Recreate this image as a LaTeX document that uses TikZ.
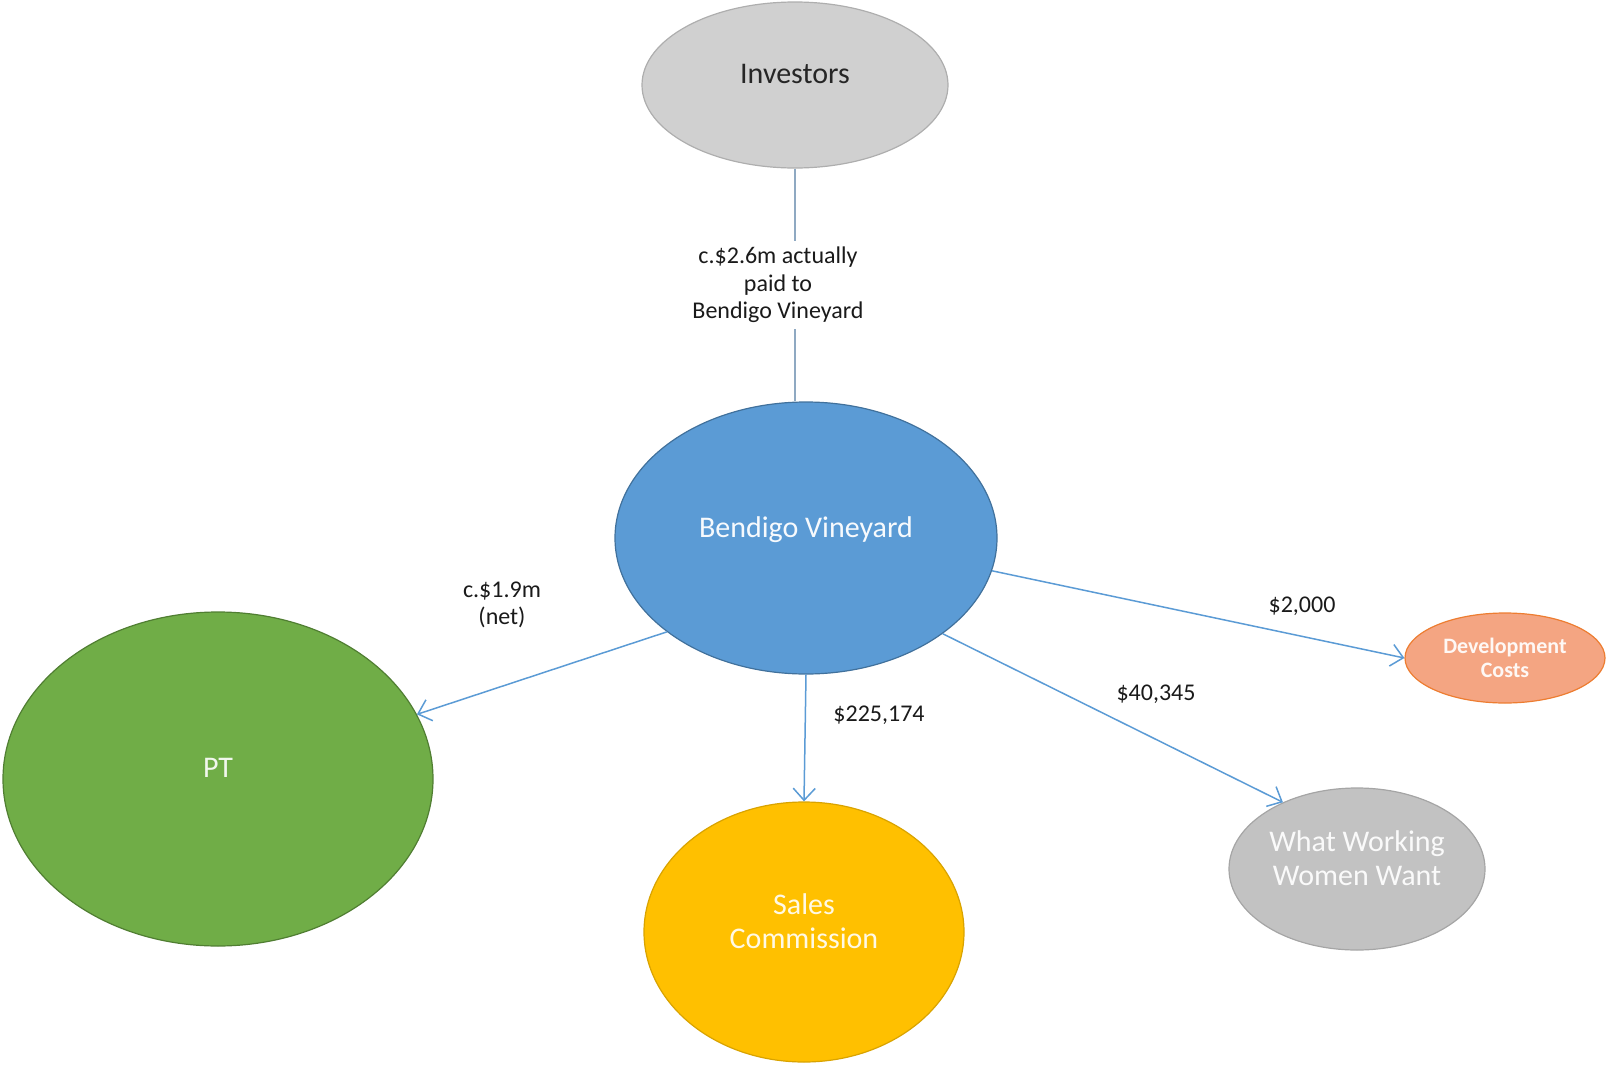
\documentclass[tikz,border=0pt]{standalone}
\usepackage{fontspec}
\setmainfont{Carlito}
\usetikzlibrary{shapes.geometric,arrows.meta}

\definecolor{invgray}{HTML}{D0D0D0}
\definecolor{invedge}{HTML}{AEAEAE}
\definecolor{bvblue}{HTML}{5B9BD5}
\definecolor{bvedge}{HTML}{41719C}
\definecolor{ptgreen}{HTML}{70AD47}
\definecolor{ptedge}{HTML}{507E32}
\definecolor{scgold}{HTML}{FFC000}
\definecolor{scedge}{HTML}{D9A300}
\definecolor{wwgray}{HTML}{C2C2C2}
\definecolor{wwedge}{HTML}{A5A5A5}
\definecolor{devorange}{HTML}{F4A582}
\definecolor{devedge}{HTML}{ED7D31}
\definecolor{linkblue}{HTML}{5B9BD5}
\definecolor{stemgray}{HTML}{8FA9C2}
\definecolor{labeltext}{HTML}{1A1A1A}

\tikzset{
  bubble/.style={ellipse, inner sep=0pt, line width=0.6pt, align=center,
    font=\fontsize{15}{17}\selectfont},
  lift/.style={execute at end node={\rule[-11pt]{0pt}{0pt}}},
  flow/.style={draw=linkblue, line width=0.75pt,
    -{Straight Barb[length=6pt,width=11pt]}},
  amount/.style={align=center, text=labeltext, inner sep=1pt,
    font=\fontsize{12}{13.8}\selectfont}
}

\begin{document}
\begin{tikzpicture}[x=0.5pt, y=-0.5pt]
  \useasboundingbox (0,0) rectangle (1608,1066);

  % Who the money comes from
  \node[bubble, lift, fill=invgray, draw=invedge, text=black!85,
        minimum width=153pt, minimum height=83pt] (inv) at (795,85) {Investors};

  % The company in the middle
  \node[bubble, lift, fill=bvblue, draw=bvedge, text=white!95!bvblue,
        minimum width=191pt, minimum height=136pt] (bv) at (806,538) {Bendigo Vineyard};

  % Where it went
  \node[bubble, lift, fill=ptgreen, draw=ptedge, text=white!90!ptgreen,
        minimum width=215pt, minimum height=167pt] (pt) at (218,779) {PT};
  \node[bubble, lift, fill=scgold, draw=scedge, text=white!90!scgold,
        minimum width=160pt, minimum height=130pt] (sc) at (804,932) {Sales\\Commission};
  \node[bubble, lift, fill=wwgray, draw=wwedge, text=white!92!wwgray,
        minimum width=128pt, minimum height=81pt] (ww) at (1357,869) {What Working\\Women Want};
  \node[bubble, fill=devorange, draw=devedge, text=white!92!devorange,
        font=\fontsize{11}{12.3}\selectfont\bfseries,
        minimum width=100pt, minimum height=45pt] (dev) at (1505,658) {Development\\Costs};

  % Investors into the company
  \draw[draw=stemgray, line width=0.75pt] (inv.south) --
    node[amount, fill=white, xshift=-8.5pt, inner sep=3pt] (lblinv)
      {c.\$2.6m actually\\paid to\\Bendigo Vineyard}
    (inv.south |- bv.north);

  % Payments out
  \draw[flow] (bv.214) -- (pt.18);
  \draw[flow] (bv.south) -- (sc.north);
  \draw[flow] (bv.325) -- (ww.138);
  \draw[flow] (bv.350) -- (dev.west);

  \node[amount] (lblpt) at (502,605) {c.\$1.9m\\(net)};
  \node[amount] (lblsc) at (879,715) {\$225,174};
  \node[amount] (lblww) at (1156,694) {\$40,345};
  \node[amount] (lbldev) at (1302,606) {\$2,000};
\end{tikzpicture}
\end{document}
